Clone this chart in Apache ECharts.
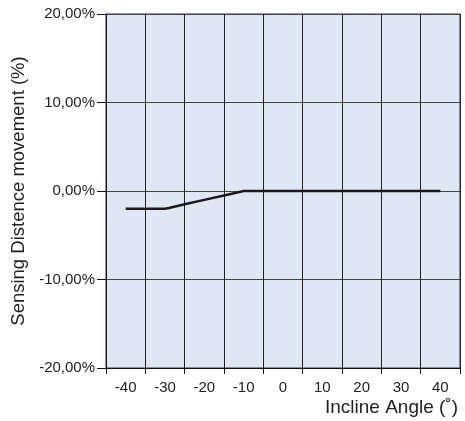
<!DOCTYPE html>
<html>
<head>
<meta charset="utf-8">
<script src="https://cdn.jsdelivr.net/npm/echarts@6/dist/echarts.min.js"></script>
<style>
html,body{margin:0;padding:0;background:#fff;}
#c{width:465px;height:421px;}
</style>
</head>
<body>
<div id="c"></div>
<script>
// Tick labels on the angle axis (centered in each column)
const angleLabels = ['-40', '-30', '-20', '-10', '0', '10', '20', '30', '40'];
// Curve: incline angle (deg) vs sensing distance movement (%)
const angles = [-40, -30, -29, -25, -20, -15, -10, 0, 10, 20, 30, 40];
const movement = [-2.0, -2.0, -1.92, -1.5, -1.0, -0.5, 0.0, 0.0, 0.0, 0.0, 0.0, 0.0];
// Y axis range / tick step (%)
const yMin = -20, yMax = 20, yStep = 10;
const xMin = -45, xMax = 45;

const chart = echarts.init(document.getElementById('c'), null, {renderer: 'canvas'});
const font = 'Liberation Sans, Arial, Helvetica, sans-serif';
chart.setOption({
  animation: false,
  grid: {
    left: 106, right: 5, top: 14, bottom: 53,
    outerBoundsMode: 'none',
    containLabel: false,
    show: true, backgroundColor: '#e0e7f4', borderColor: '#333', borderWidth: 1
  },
  xAxis: [{
    type: 'category',
    data: angleLabels,
    boundaryGap: true,
    axisLine: {show: true, onZero: false, lineStyle: {color: '#111', width: 1}},
    axisTick: {show: true, length: 6, lineStyle: {color: '#111'}},
    axisLabel: {color: '#222', fontSize: 15, fontFamily: font, margin: 12},
    splitLine: {show: true, lineStyle: {color: '#222', width: 1}},
    name: 'Incline Angle (˚)',
    nameLocation: 'end',
    nameGap: -2,
    nameTextStyle: {color: '#222', fontSize: 19, fontFamily: font, align: 'right', verticalAlign: 'top', padding: [30, 0, 0, 0]}
  }, {
    type: 'value',
    min: xMin, max: xMax,
    axisLine: {onZero: false},
    show: false
  }],
  yAxis: {
    type: 'value',
    min: yMin, max: yMax, interval: yStep,
    axisLine: {show: true, onZero: false, lineStyle: {color: '#111', width: 1}},
    axisTick: {show: true, length: 9, lineStyle: {color: '#111'}},
    axisLabel: {
      color: '#222', fontSize: 15, fontFamily: font, margin: 11,
      formatter: v => v.toFixed(2).replace('.', ',') + '%'
    },
    splitLine: {show: true, lineStyle: {color: '#444', width: 1}},
    name: 'Sensing Distence movement (%)',
    nameLocation: 'middle',
    nameGap: 78,
    nameRotate: 90,
    nameTextStyle: {color: '#222', fontSize: 18.5, fontFamily: font}
  },
  series: [{
    type: 'line',
    xAxisIndex: 1,
    data: angles.map((a, i) => [a, movement[i]]),
    showSymbol: false,
    smooth: false,
    lineStyle: {color: '#1a1a1a', width: 2.5},
    z: 5
  }]
});
</script>
</body>
</html>
